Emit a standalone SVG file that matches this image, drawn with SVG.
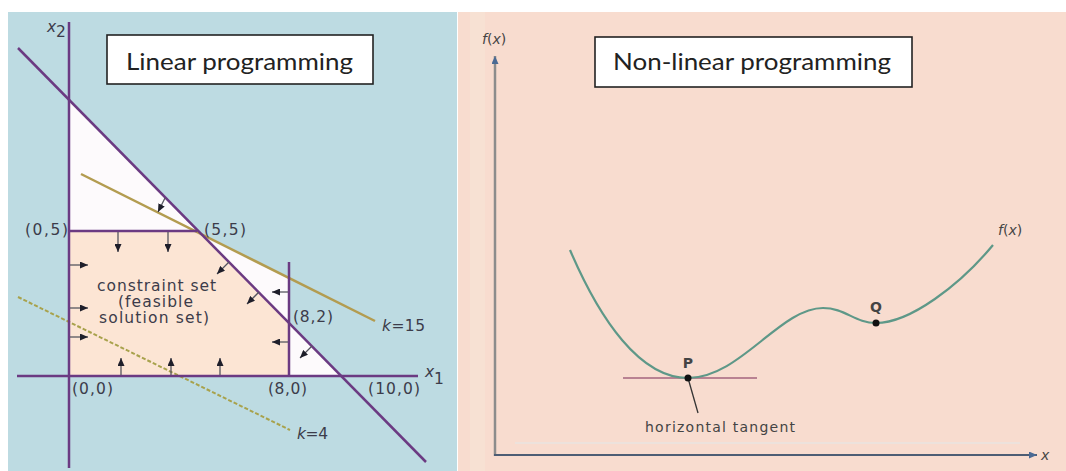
<svg xmlns="http://www.w3.org/2000/svg" width="1066" height="471" viewBox="0 0 1066 471">
<style>
.ax{stroke:#6b3a82;stroke-width:2.5;fill:none}
.arr{stroke:#55555f;stroke-width:1.3;fill:none;marker-end:url(#ah)}
.lbl{font-family:"DejaVu Sans",sans-serif;font-size:15.5px;fill:#3c3c4a}
.sm{font-family:"DejaVu Sans",sans-serif;font-size:14px;fill:#444}
.ttl{font-family:Lato,"Liberation Sans",sans-serif;font-size:24px;fill:#222}
.box{fill:#fff;stroke:#222;stroke-width:1.6}
.it{font-style:italic}
</style>
<defs>
<marker id="ah" markerWidth="9" markerHeight="7" refX="8" refY="3.5" orient="auto" markerUnits="userSpaceOnUse"><path d="M0,0 L8,3.5 L0,7 z" fill="#1e1e2a"/></marker>
<marker id="axb" markerWidth="9" markerHeight="7" refX="8" refY="3.5" orient="auto" markerUnits="userSpaceOnUse"><path d="M0,0 L8,3.5 L0,7 z" fill="#4a6a94"/></marker>
</defs>
<rect x="0" y="0" width="1066" height="471" fill="#fff"/>
<g id="left-panel">
<rect x="8" y="12" width="449" height="459" fill="#bddbe2"/>
<polygon points="69,231 197,231 289,323 289,376 69,376" fill="#fce5d4"/>
<polygon points="69,100 69,231 197,231" fill="#fdfafc"/>
<polygon points="197,231 289,278 289,323" fill="#fdfafc"/>
<polygon points="289,323 289,376 341,376" fill="#fdfafc"/>
<line x1="18" y1="297" x2="290" y2="430" stroke="#a8a24c" stroke-width="2" stroke-dasharray="4 2"/>
<line x1="81" y1="174" x2="375" y2="321" stroke="#b39c50" stroke-width="2.5"/>
<line class="ax" x1="69" y1="22" x2="69" y2="468"/>
<line class="ax" x1="17" y1="376" x2="418" y2="376"/>
<line class="ax" x1="18" y1="48" x2="426" y2="462"/>
<line class="ax" x1="69" y1="231" x2="197" y2="231"/>
<line class="ax" x1="289" y1="262" x2="289" y2="376"/>
</g>
<g id="constraint-arrows">
<line class="arr" x1="165" y1="198" x2="158" y2="212"/>
<line class="arr" x1="118" y1="232" x2="118" y2="252"/>
<line class="arr" x1="168" y1="232" x2="168" y2="252"/>
<line class="arr" x1="70" y1="265" x2="88" y2="265"/>
<line class="arr" x1="70" y1="308" x2="88" y2="308"/>
<line class="arr" x1="70" y1="337" x2="88" y2="337"/>
<line class="arr" x1="121" y1="375" x2="121" y2="358"/>
<line class="arr" x1="171" y1="375" x2="171" y2="358"/>
<line class="arr" x1="220" y1="375" x2="220" y2="358"/>
<line class="arr" x1="288" y1="292" x2="272" y2="292"/>
<line class="arr" x1="288" y1="342" x2="272" y2="342"/>
<line class="arr" x1="229" y1="262" x2="217" y2="274"/>
<line class="arr" x1="259" y1="292" x2="247" y2="304"/>
<line class="arr" x1="312" y1="346" x2="300" y2="358"/>
</g>
<g id="left-labels">
<text class="lbl it" x="47" y="32" font-size="14">x</text><text class="lbl" x="56" y="37" font-size="10">2</text>
<text class="lbl it" x="425" y="377" font-size="14">x</text><text class="lbl" x="434" y="384" font-size="10">1</text>
<text class="lbl" x="25" y="235" textLength="43" lengthAdjust="spacing">(0,5)</text>
<text class="lbl" x="204" y="235" textLength="42" lengthAdjust="spacing">(5,5)</text>
<text class="lbl" x="293" y="322" textLength="40" lengthAdjust="spacing">(8,2)</text>
<text class="lbl" x="72" y="394" textLength="41" lengthAdjust="spacing">(0,0)</text>
<text class="lbl" x="268" y="394" textLength="39" lengthAdjust="spacing">(8,0)</text>
<text class="lbl" x="368" y="394" textLength="52" lengthAdjust="spacing">(10,0)</text>
<text class="lbl" x="382" y="331" textLength="43" lengthAdjust="spacing"><tspan class="it">k</tspan>=15</text>
<text class="lbl" x="297" y="439" textLength="31" lengthAdjust="spacing"><tspan class="it">k</tspan>=4</text>
<text class="lbl" x="97" y="291" textLength="119" lengthAdjust="spacing">constraint set</text>
<text class="lbl" x="118" y="307" textLength="75" lengthAdjust="spacing">(feasible</text>
<text class="lbl" x="99" y="323" textLength="110" lengthAdjust="spacing">solution set)</text>
</g>
<g id="title-linear">
<rect class="box" x="107" y="35" width="266" height="49"/>
<text class="ttl" x="126" y="70" textLength="227" lengthAdjust="spacingAndGlyphs">Linear programming</text>
</g>
<g id="right-panel">
<rect x="458" y="12" width="608" height="459" fill="#f8dccf"/>
<rect x="470" y="12" width="15" height="459" fill="#f6e2d4" opacity="0.7"/>
<line x1="515" y1="443" x2="1020" y2="443" stroke="#ede2dc" stroke-width="2"/>
<line x1="495" y1="456" x2="495" y2="56" stroke="#8c8c8c" stroke-width="2.5" marker-end="url(#axb)"/>
<line x1="494" y1="455" x2="1037" y2="455" stroke="#4d5d74" stroke-width="2" marker-end="url(#axb)"/>
<line x1="623" y1="378" x2="757" y2="378" stroke="#a4647e" stroke-width="1.6"/>
<path d="M570,250 C600,320 640,378 688,378 C740,378 780,308 823,308 C845,308 855,323 876,323 C910,323 960,285 993,245" fill="none" stroke="#5e9888" stroke-width="2.2"/>
<line x1="688" y1="378" x2="698" y2="413" stroke="#333" stroke-width="1.3"/>
<circle cx="688" cy="378" r="3.5" fill="#111"/>
<circle cx="876" cy="323" r="3.5" fill="#111"/>
</g>
<g id="right-labels">
<text class="sm" x="482" y="44" font-size="13"><tspan class="it">f</tspan>(<tspan class="it">x</tspan>)</text>
<text class="sm" x="998" y="235" font-size="13"><tspan class="it">f</tspan>(<tspan class="it">x</tspan>)</text>
<text class="sm it" x="1041" y="460">x</text>
<text class="sm" x="688" y="368" text-anchor="middle" font-weight="bold">P</text>
<text class="sm" x="876" y="312" text-anchor="middle" font-weight="bold">Q</text>
<text class="sm" x="645" y="432" textLength="150" lengthAdjust="spacing">horizontal tangent</text>
</g>
<g id="title-nonlinear">
<rect class="box" x="595" y="37" width="317" height="50"/>
<text class="ttl" x="613" y="70" textLength="278" lengthAdjust="spacingAndGlyphs">Non-linear programming</text>
</g>
</svg>
